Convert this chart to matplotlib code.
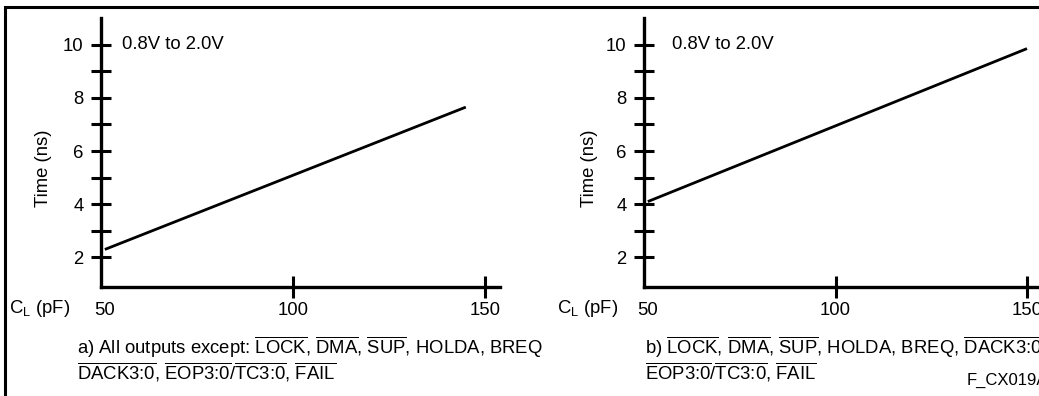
import matplotlib
matplotlib.use("Agg")
import matplotlib.pyplot as plt
from matplotlib.patches import Rectangle
from matplotlib.transforms import ScaledTranslation

plt.rcParams['font.family'] = ['Liberation Sans', 'DejaVu Sans']
plt.rcParams['mathtext.fontset'] = 'custom'
plt.rcParams['mathtext.rm'] = 'Liberation Sans'
plt.rcParams['mathtext.it'] = 'Liberation Sans:italic'
plt.rcParams['mathtext.bf'] = 'Liberation Sans:bold'
plt.rcParams['mathtext.sf'] = 'Liberation Sans'

# ---------------- data ----------------
cap_a = [51, 145]          # C_L (pF)
time_a = [2.3, 7.65]       # ns
cap_b = [51, 150]
time_b = [4.1, 9.85]
x_ticks = [50, 100, 150]
x_tick_labels = ["50", "100", "150"]
y_major = [2, 4, 6, 8, 10]
y_major_labels = ["2", "4", "6", "8", "10"]
y_minor = [3, 5, 7, 9]
range_label = "0.8V to 2.0V"
y_label = "Time (ns)"
x_label = "C$_{\\mathrm{L}}$ (pF)"
caption_a = [
    "a) All outputs except: $\\overline{\\text{LOCK}}$, $\\overline{\\text{DMA}}$, "
    "$\\overline{\\text{SUP}}$, HOLDA, BREQ",
    "$\\overline{\\text{DACK3:0}}$, $\\overline{\\text{EOP3:0}}$/$\\overline{\\text{TC3:0}}$, "
    "$\\overline{\\text{FAIL}}$",
]
caption_b = [
    "b) $\\overline{\\text{LOCK}}$, $\\overline{\\text{DMA}}$, $\\overline{\\text{SUP}}$, "
    "HOLDA, BREQ, $\\overline{\\text{DACK3:0}}$",
    "$\\overline{\\text{EOP3:0}}$/$\\overline{\\text{TC3:0}}$, $\\overline{\\text{FAIL}}$",
]
fig_id = "F_CX019A"

# ---------------- layout ----------------
W, H = 1039, 396
fig = plt.figure(figsize=(W / 100, H / 100), dpi=100)


def fx(px):
    return px / W


def fy(py):
    return 1 - py / H


YLO, YHI = 0.9, 11.0
TOP_PX, BOT_PX = 18, 286.7
FS = 13.3


def make_axes(left_px, right_px, px_per_unit, xs, ys):
    xmax = 50 + (right_px - left_px) / px_per_unit
    ax = fig.add_axes([fx(left_px), fy(BOT_PX), (right_px - left_px) / W,
                       (BOT_PX - TOP_PX) / H])
    ax.patch.set_alpha(0)
    ax.set_xlim(50, xmax)
    ax.set_ylim(YLO, YHI)
    for s in ("top", "right"):
        ax.spines[s].set_visible(False)
    for s in ("left", "bottom"):
        ax.spines[s].set_linewidth(2.4)
        ax.spines[s].set_capstyle("projecting")
    ax.set_xticks(x_ticks, x_tick_labels)
    ax.set_yticks(y_major, y_major_labels)
    ax.set_yticks(y_minor, minor=True)
    ax.tick_params(axis="y", which="both", direction="inout", length=15,
                   width=2.2, labelsize=FS, pad=5)
    ax.tick_params(axis="x", which="both", direction="inout", length=16,
                   width=2.2, labelsize=FS, pad=3)
    ax.xaxis.get_major_ticks()[0].tick1line.set_visible(False)
    off = ScaledTranslation(4 / 100, 0, fig.dpi_scale_trans)
    lbl = ax.get_xticklabels()[0]
    lbl.set_transform(lbl.get_transform() + off)
    ax.plot(xs, ys, color="black", lw=2.0, solid_capstyle="butt", clip_on=False)
    return ax


ax1 = make_axes(101, 500, 3.84, cap_a, time_a)
ax2 = make_axes(644, 1060, 3.83, cap_b, time_b)

ax1.text(55.5, 10, range_label, va="center", ha="left", fontsize=FS)
ax2.text(57.3, 10, range_label, va="center", ha="left", fontsize=FS)

fig.text(fx(43), fy(168), y_label, rotation=90, ha="center", va="center", fontsize=FS)
fig.text(fx(589), fy(168), y_label, rotation=90, ha="center", va="center", fontsize=FS)

fig.text(fx(70), fy(313), x_label, ha="right", va="baseline", fontsize=FS)
fig.text(fx(618), fy(313), x_label, ha="right", va="baseline", fontsize=FS)

for xpx, lines in ((77, caption_a), (645, caption_b)):
    fig.text(fx(xpx), fy(354), lines[0], ha="left", va="baseline", fontsize=FS)
    fig.text(fx(xpx), fy(380), lines[1], ha="left", va="baseline", fontsize=FS)

fig.text(fx(967), fy(385), fig_id, ha="left", va="baseline", fontsize=12)

fig.patches.append(Rectangle((fx(4.5), -0.2), 2, fy(7.5) + 0.2,
                             transform=fig.transFigure, fill=False,
                             lw=2.2, edgecolor="black", clip_on=False))

fig.savefig("out.png", dpi=100)
